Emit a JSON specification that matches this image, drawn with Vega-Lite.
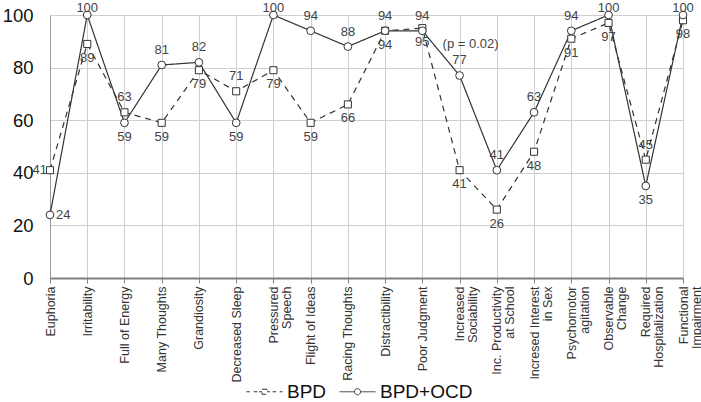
{
  "$schema": "https://vega.github.io/schema/vega-lite/v6.json",
  "autosize": {"type": "none"},
  "width": 633,
  "height": 263,
  "padding": {"left": 50, "top": 15, "right": 18, "bottom": 124},
  "config": {
    "font": "Liberation Sans",
    "view": {"stroke": null},
    "axis": {"gridColor": "#cfcfcf", "gridWidth": 1}
  },
  "data": {
    "values": [
      {"c": "Euphoria", "g": "BPD", "v": 41},
      {"c": "Irritability", "g": "BPD", "v": 89},
      {"c": "Full of Energy", "g": "BPD", "v": 63},
      {"c": "Many Thoughts", "g": "BPD", "v": 59},
      {"c": "Grandiosity", "g": "BPD", "v": 79},
      {"c": "Decreased Sleep", "g": "BPD", "v": 71},
      {"c": "Pressured\nSpeech", "g": "BPD", "v": 79},
      {"c": "Flight of Ideas", "g": "BPD", "v": 59},
      {"c": "Racing Thoughts", "g": "BPD", "v": 66},
      {"c": "Distractibility", "g": "BPD", "v": 94},
      {"c": "Poor Judgment", "g": "BPD", "v": 95},
      {"c": "Increased\nSociability", "g": "BPD", "v": 41},
      {"c": "Inc. Productivity\nat School", "g": "BPD", "v": 26},
      {"c": "Incresed Interest\nin Sex", "g": "BPD", "v": 48},
      {"c": "Psychomotor\nagitation", "g": "BPD", "v": 91},
      {"c": "Observable\nChange", "g": "BPD", "v": 97},
      {"c": "Required\nHospitalization", "g": "BPD", "v": 45},
      {"c": "Functional\nImpairment", "g": "BPD", "v": 98},
      {"c": "Euphoria", "g": "BPD+OCD", "v": 24},
      {"c": "Irritability", "g": "BPD+OCD", "v": 100},
      {"c": "Full of Energy", "g": "BPD+OCD", "v": 59},
      {"c": "Many Thoughts", "g": "BPD+OCD", "v": 81},
      {"c": "Grandiosity", "g": "BPD+OCD", "v": 82},
      {"c": "Decreased Sleep", "g": "BPD+OCD", "v": 59},
      {"c": "Pressured\nSpeech", "g": "BPD+OCD", "v": 100},
      {"c": "Flight of Ideas", "g": "BPD+OCD", "v": 94},
      {"c": "Racing Thoughts", "g": "BPD+OCD", "v": 88},
      {"c": "Distractibility", "g": "BPD+OCD", "v": 94},
      {"c": "Poor Judgment", "g": "BPD+OCD", "v": 94},
      {"c": "Increased\nSociability", "g": "BPD+OCD", "v": 77, "note": "(p = 0.02)"},
      {"c": "Inc. Productivity\nat School", "g": "BPD+OCD", "v": 41},
      {"c": "Incresed Interest\nin Sex", "g": "BPD+OCD", "v": 63},
      {"c": "Psychomotor\nagitation", "g": "BPD+OCD", "v": 94},
      {"c": "Observable\nChange", "g": "BPD+OCD", "v": 100},
      {"c": "Required\nHospitalization", "g": "BPD+OCD", "v": 35},
      {"c": "Functional\nImpairment", "g": "BPD+OCD", "v": 100}
    ]
  },
  "encoding": {
    "x": {
      "field": "c", "type": "nominal", "sort": null,
      "scale": {"type": "point", "padding": 0},
      "axis": {
        "title": null, "labelAngle": -90, "labelFontSize": 12.5, "labelColor": "#333",
        "labelExpr": "split(datum.label, '\\n')", "labelLineHeight": 13,
        "domainColor": "#808080", "domainWidth": 2, "tickColor": "#808080", "tickSize": 5,
        "labelPadding": 3, "grid": true
      }
    },
    "y": {
      "field": "v", "type": "quantitative",
      "scale": {"domain": [0, 100], "nice": false},
      "axis": {
        "title": null, "values": [0, 20, 40, 60, 80, 100], "labelFontSize": 18.5, "labelColor": "#111",
        "ticks": false, "labelPadding": 17, "domainColor": "#999", "domainWidth": 1, "grid": true
      }
    }
  },
  "layer": [
    {
      "mark": {"type": "point", "size": 0, "filled": false, "stroke": "#333", "strokeWidth": 1},
      "encoding": {
        "shape": {
          "field": "g", "type": "nominal",
          "scale": {"domain": ["BPD", "BPD+OCD"], "range": [
            "M-1,0H-0.82M-0.6,0H-0.4M-0.14,-0.14H0.14V0.14H-0.14ZM-0.3,0H-0.14M0.14,0H0.3M0.45,0H0.65M0.85,0H1",
            "M-1,0H-0.17M0.17,0H1M-0.17,0A0.17,0.17 0 1,1 0.17,0A0.17,0.17 0 1,1 -0.17,0"
          ]},
          "legend": {
            "title": null, "orient": "none", "direction": "horizontal",
            "legendX": 196, "legendY": 358,
            "labelFontSize": 19, "labelColor": "#111", "labelOffset": 4,
            "columnPadding": 10, "symbolSize": 1296, "symbolStrokeWidth": 1,
            "symbolOpacity": 1, "symbolStrokeColor": "#333", "symbolFillColor": "white"
          }
        }
      }
    },
    {
      "mark": {"type": "line", "color": "#333", "strokeWidth": 1.2},
      "encoding": {
        "strokeDash": {
          "field": "g", "type": "nominal",
          "scale": {"domain": ["BPD", "BPD+OCD"], "range": [[6, 5], [1, 0]]},
          "legend": null
        }
      }
    },
    {
      "transform": [{"filter": "datum.g === 'BPD'"}],
      "mark": {"type": "point", "shape": "square", "filled": true, "fill": "white", "stroke": "#333", "strokeWidth": 1, "size": 50, "opacity": 1}
    },
    {
      "transform": [{"filter": "datum.g === 'BPD+OCD'"}],
      "mark": {"type": "point", "shape": "circle", "filled": true, "fill": "white", "stroke": "#333", "strokeWidth": 1, "size": 60, "opacity": 1}
    },
    {
      "transform": [{"filter": "datum.g === 'BPD' && !(datum.c === 'Euphoria' || datum.c === 'Full of Energy' || datum.c === 'Decreased Sleep' || indexof(datum.c, 'Required') === 0)"}],
      "mark": {"type": "text", "fontSize": 13, "color": "#444", "baseline": "middle", "dy": 14},
      "encoding": {"text": {"field": "v"}}
    },
    {
      "transform": [{"filter": "datum.g === 'BPD' && (datum.c === 'Full of Energy' || datum.c === 'Decreased Sleep' || indexof(datum.c, 'Required') === 0)"}],
      "mark": {"type": "text", "fontSize": 13, "color": "#444", "baseline": "middle", "dy": -15},
      "encoding": {"text": {"field": "v"}}
    },
    {
      "transform": [{"filter": "datum.g === 'BPD' && datum.c === 'Euphoria'"}],
      "mark": {"type": "text", "fontSize": 13, "color": "#444", "baseline": "middle", "align": "right", "dx": -3},
      "encoding": {"text": {"field": "v"}}
    },
    {
      "transform": [{"filter": "datum.g === 'BPD+OCD' && datum.v < 100 && !(datum.c === 'Euphoria' || datum.c === 'Full of Energy' || datum.c === 'Decreased Sleep' || indexof(datum.c, 'Required') === 0)"}],
      "mark": {"type": "text", "fontSize": 13, "color": "#444", "baseline": "middle", "dy": -15},
      "encoding": {"text": {"field": "v"}}
    },
    {
      "transform": [{"filter": "datum.g === 'BPD+OCD' && datum.v >= 100"}],
      "mark": {"type": "text", "fontSize": 13, "color": "#444", "baseline": "middle", "dy": -7},
      "encoding": {"text": {"field": "v"}}
    },
    {
      "transform": [{"filter": "datum.g === 'BPD+OCD' && (datum.c === 'Full of Energy' || datum.c === 'Decreased Sleep' || indexof(datum.c, 'Required') === 0)"}],
      "mark": {"type": "text", "fontSize": 13, "color": "#444", "baseline": "middle", "dy": 14},
      "encoding": {"text": {"field": "v"}}
    },
    {
      "transform": [{"filter": "datum.g === 'BPD+OCD' && datum.c === 'Euphoria'"}],
      "mark": {"type": "text", "fontSize": 13, "color": "#444", "baseline": "middle", "align": "left", "dx": 6},
      "encoding": {"text": {"field": "v"}}
    },
    {
      "transform": [{"filter": "datum.note"}],
      "mark": {"type": "text", "fontSize": 13, "color": "#444", "baseline": "middle", "dx": 11, "dy": -31},
      "encoding": {"text": {"field": "note"}}
    }
  ]
}
